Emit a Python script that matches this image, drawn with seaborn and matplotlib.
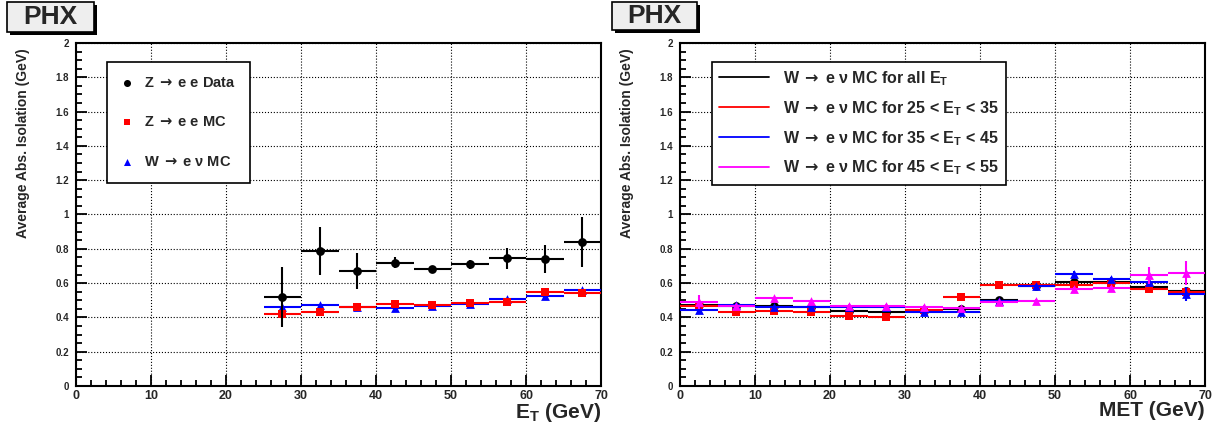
import numpy as np
import pandas as pd
import seaborn as sns
import matplotlib
matplotlib.use("Agg")
import matplotlib.pyplot as plt
from matplotlib.lines import Line2D
from matplotlib.patches import Rectangle
from matplotlib.ticker import MultipleLocator, FormatStrFormatter

# --- left panel: average isolation vs electron E_T ---
et_bins    = [27.5, 32.5, 37.5, 42.5, 47.5, 52.5, 57.5, 62.5, 67.5]
z_data     = [0.52, 0.79, 0.67, 0.72, 0.68, 0.71, 0.745, 0.74, 0.84]
z_data_err = [0.175, 0.14, 0.105, 0.03, 0.01, 0.025, 0.06, 0.08, 0.147]
z_mc       = [0.42, 0.43, 0.46, 0.48, 0.47, 0.485, 0.49, 0.55, 0.54]
z_mc_err   = [0.005, 0.005, 0.005, 0.005, 0.005, 0.005, 0.005, 0.005, 0.005]
w_mc       = [0.46, 0.47, 0.46, 0.455, 0.465, 0.48, 0.51, 0.525, 0.56]
w_mc_err   = [0.005, 0.005, 0.005, 0.005, 0.005, 0.005, 0.005, 0.005, 0.005]

# --- right panel: W MC isolation vs MET, sliced in E_T ---
met_bins    = [2.5, 7.5, 12.5, 17.5, 22.5, 27.5, 32.5, 37.5, 42.5, 47.5, 52.5, 57.5, 62.5, 67.5]
w_all       = [0.47, 0.468, 0.464, 0.458, 0.438, 0.429, 0.44, 0.447, 0.504, 0.585, 0.608, 0.606, 0.575, 0.554]
w_all_err   = [0.005, 0.005, 0.005, 0.005, 0.005, 0.005, 0.005, 0.005, 0.005, 0.005, 0.008, 0.008, 0.01, 0.01]
w_25_35     = [0.465, 0.429, 0.435, 0.433, 0.41, 0.403, 0.444, 0.521, 0.588, 0.588, 0.588, 0.60, 0.565, 0.546]
w_25_35_err = [0.01, 0.01, 0.01, 0.01, 0.01, 0.01, 0.01, 0.01, 0.01, 0.01, 0.01, 0.01, 0.015, 0.015]
w_35_45     = [0.442, 0.475, 0.458, 0.46, 0.462, 0.46, 0.43, 0.429, 0.495, 0.585, 0.653, 0.621, 0.606, 0.535]
w_35_45_err = [0.01, 0.01, 0.01, 0.01, 0.01, 0.01, 0.01, 0.01, 0.01, 0.01, 0.015, 0.015, 0.02, 0.04]
w_45_55     = [0.49, 0.469, 0.511, 0.493, 0.467, 0.467, 0.46, 0.452, 0.487, 0.498, 0.563, 0.571, 0.646, 0.66]
w_45_55_err = [0.04, 0.01, 0.01, 0.01, 0.01, 0.01, 0.01, 0.01, 0.01, 0.01, 0.015, 0.015, 0.05, 0.07]

BIN_HALF = 2.5   # bins are 5 GeV wide

sns.set_style("white")
plt.rcParams["font.family"] = ["Liberation Sans", "DejaVu Sans"]
plt.rcParams["font.weight"] = "bold"
plt.rcParams["mathtext.fontset"] = "custom"
plt.rcParams["mathtext.rm"] = "Liberation Sans:bold"
plt.rcParams["mathtext.it"] = "Liberation Sans:bold"
plt.rcParams["mathtext.bf"] = "Liberation Sans:bold"
plt.rcParams["mathtext.sf"] = "DejaVu Sans"   # used for the arrow only

W, H = 1215, 433
ARROW = r"$\;\mathsf{\rightarrow}\;$"
ET = r"E$_\mathrm{T}$"


def draw_series(ax, x, y, yerr, color, marker, size, label, z):
    df = pd.DataFrame({"x": x, "y": y})
    ax.errorbar(df["x"], df["y"], xerr=BIN_HALF, yerr=yerr, fmt="none",
                ecolor=color, elinewidth=1.5, capsize=0, zorder=z)
    sns.scatterplot(data=df, x="x", y="y", marker=marker, s=size, color=color,
                    linewidth=0, ax=ax, label=label, legend=False, zorder=z + 0.5)


def style_axes(ax, xlabel):
    ax.set_xlim(0, 70)
    ax.set_ylim(0, 2)
    ax.xaxis.set_major_locator(MultipleLocator(10))
    ax.xaxis.set_minor_locator(MultipleLocator(2))
    ax.yaxis.set_major_locator(MultipleLocator(0.2))
    ax.yaxis.set_minor_locator(MultipleLocator(0.05))
    ax.yaxis.set_major_formatter(FormatStrFormatter("%g"))
    ax.tick_params(which="both", direction="in", top=False, right=False,
                   bottom=True, left=True, color="black", width=1.3)
    ax.tick_params(which="major", length=8)
    ax.tick_params(which="minor", length=4)
    ax.tick_params(axis="x", labelsize=9, pad=3)
    ax.tick_params(axis="y", labelsize=7, pad=5)
    ax.grid(True, which="major", ls=":", color="black", lw=0.8)
    for sp in ax.spines.values():
        sp.set_visible(True)
        sp.set_color("black")
        sp.set_linewidth(1.5)
    ax.set_ylabel("Average Abs. Isolation (GeV)", fontsize=10, fontweight="bold", loc="top")
    ax.yaxis.set_label_coords(-0.088, 0.985)
    ax.set_xlabel(xlabel, fontsize=15, fontweight="bold", loc="right")
    ax.xaxis.set_label_coords(1.0, -0.043)


def phx_box(fig, x0, y0, x1, y1):
    fig.add_artist(Rectangle(((x0 + 3) / W, 1 - (y1 + 3) / H), (x1 - x0) / W, (y1 - y0) / H,
                             transform=fig.transFigure, facecolor="black", edgecolor="none"))
    fig.add_artist(Rectangle((x0 / W, 1 - y1 / H), (x1 - x0) / W, (y1 - y0) / H,
                             transform=fig.transFigure, facecolor="#eeeeee",
                             edgecolor="black", linewidth=1.2))
    fig.text((x0 + x1) / 2 / W, 1 - (y0 + y1) / 2 / H, "PHX", fontsize=19,
             fontweight="bold", ha="center", va="center")


fig = plt.figure(figsize=(W / 100, H / 100), dpi=100)
ax1 = fig.add_axes([76 / W, 1 - 386 / H, 525 / W, 343 / H])
ax2 = fig.add_axes([680 / W, 1 - 386 / H, 525 / W, 343 / H])

# left panel
lab_w = f"W{ARROW}e ν MC"
lab_zmc = f"Z{ARROW}e e MC"
lab_zd = f"Z{ARROW}e e Data"
draw_series(ax1, et_bins, w_mc, w_mc_err, "blue", "^", 40, lab_w, 3)
draw_series(ax1, et_bins, z_mc, z_mc_err, "red", "s", 36, lab_zmc, 4)
draw_series(ax1, et_bins, z_data, z_data_err, "black", "o", 40, lab_zd, 5)
style_axes(ax1, ET + " (GeV)")
h, l = ax1.get_legend_handles_labels()
order = [l.index(lab_zd), l.index(lab_zmc), l.index(lab_w)]
leg1 = ax1.legend([h[i] for i in order], [l[i] for i in order],
                  loc="upper left", bbox_to_anchor=(0.059, 0.945), borderaxespad=0,
                  fontsize=10.5, frameon=True, fancybox=False, edgecolor="black",
                  framealpha=1, borderpad=0.95, labelspacing=1.75, handlelength=0.8,
                  handletextpad=0.8, scatterpoints=1, markerscale=0.8)
leg1.get_frame().set_linewidth(1.2)

# right panel
right_series = [
    (w_all, w_all_err, "black", "o", 40, f"W{ARROW}e ν MC for all {ET}"),
    (w_25_35, w_25_35_err, "red", "s", 36, f"W{ARROW}e ν MC for 25 < {ET} < 35"),
    (w_35_45, w_35_45_err, "blue", "^", 40, f"W{ARROW}e ν MC for 35 < {ET} < 45"),
    (w_45_55, w_45_55_err, "magenta", "^", 40, f"W{ARROW}e ν MC for 45 < {ET} < 55"),
]
handles = []
for k, (vals, errs, col, mk, sz, lab) in enumerate(right_series):
    draw_series(ax2, met_bins, vals, errs, col, mk, sz, None, 3 + k)
    handles.append(Line2D([], [], color=col, lw=1.3, label=lab))
style_axes(ax2, "MET (GeV)")
leg2 = ax2.legend(handles=handles, loc="upper left", bbox_to_anchor=(0.061, 0.945),
                  borderaxespad=0, fontsize=11.5, frameon=True, fancybox=False,
                  edgecolor="black", framealpha=1, borderpad=0.45, labelspacing=0.7,
                  handlelength=3.1, handletextpad=0.9)
leg2.get_frame().set_linewidth(1.2)

phx_box(fig, 7, 2, 94, 32)
phx_box(fig, 612, 2, 697, 30)

fig.savefig("out.png", dpi=100)
